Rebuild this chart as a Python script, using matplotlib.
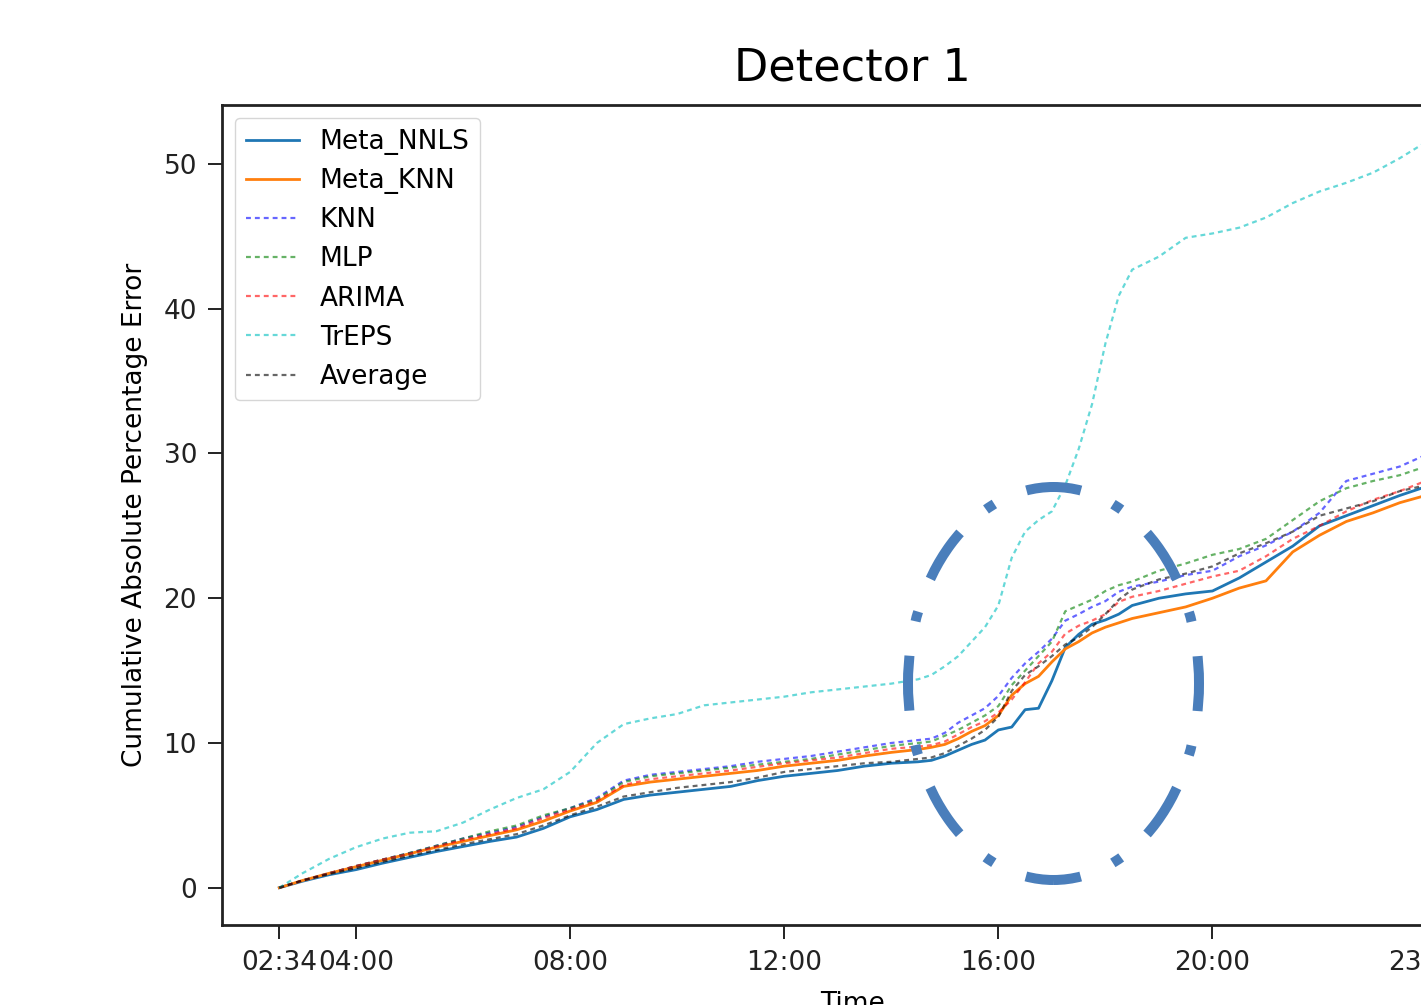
import numpy as np
import pandas as pd
import matplotlib
matplotlib.use("Agg")
import matplotlib.pyplot as plt
import matplotlib.dates as mdates
from matplotlib.patches import Ellipse

# time stamps
times = ["02:34", "03:00", "03:30", "04:00", "04:30", "05:00", "05:30", "06:00",
         "06:30", "07:00", "07:30", "08:00", "08:30", "09:00", "09:30", "10:00",
         "10:30", "11:00", "11:30", "12:00", "12:30", "13:00", "13:30", "14:00",
         "14:30", "14:45", "15:00", "15:15", "15:30", "15:45", "16:00", "16:15",
         "16:30", "16:45", "17:00", "17:15", "17:30", "17:45", "18:00", "18:15",
         "18:30", "19:00", "19:30", "20:00", "20:30", "21:00", "21:30", "22:00",
         "22:30", "23:00", "23:30", "23:59"]

meta_nnls = [0, 0.45, 0.9, 1.25, 1.7, 2.1, 2.5, 2.85, 3.2, 3.5, 4.1, 4.9, 5.4, 6.1,
             6.4, 6.6, 6.8, 7.0, 7.4, 7.7, 7.9, 8.1, 8.4, 8.6, 8.7, 8.8, 9.1, 9.5,
             9.9, 10.2, 10.9, 11.1, 12.3, 12.4, 14.3, 16.6, 17.5, 18.2, 18.5, 18.9,
             19.5, 20.0, 20.3, 20.5, 21.4, 22.5, 23.6, 25.0, 25.7, 26.4, 27.1, 27.7]
meta_knn = [0, 0.5, 1.0, 1.45, 1.9, 2.35, 2.8, 3.2, 3.6, 4.0, 4.6, 5.3, 5.9, 7.0,
            7.3, 7.5, 7.7, 7.9, 8.1, 8.4, 8.6, 8.8, 9.1, 9.35, 9.55, 9.7, 9.9, 10.3,
            10.8, 11.2, 11.9, 13.3, 14.1, 14.6, 15.6, 16.5, 17.0, 17.6, 18.0, 18.3,
            18.6, 19.0, 19.4, 20.0, 20.7, 21.2, 23.2, 24.35, 25.3, 25.9, 26.6, 27.1]
knn = [0, 0.5, 1.0, 1.5, 1.95, 2.4, 2.9, 3.4, 3.8, 4.2, 4.9, 5.5, 6.2, 7.4, 7.8,
       8.0, 8.2, 8.4, 8.7, 8.9, 9.1, 9.4, 9.7, 10.0, 10.2, 10.3, 10.7, 11.4, 11.9,
       12.4, 13.25, 14.5, 15.5, 16.3, 17.2, 18.45, 18.9, 19.4, 19.8, 20.45, 20.8,
       21.15, 21.6, 21.9, 22.9, 23.65, 24.6, 25.9, 28.1, 28.6, 29.1, 29.9]
mlp = [0, 0.5, 1.0, 1.5, 1.95, 2.4, 2.9, 3.4, 3.9, 4.3, 5.0, 5.5, 6.1, 7.3, 7.7,
       7.9, 8.1, 8.3, 8.5, 8.7, 8.9, 9.2, 9.5, 9.8, 10.0, 10.1, 10.5, 10.9, 11.4,
       11.9, 12.55, 14.0, 15.0, 16.0, 17.0, 19.1, 19.5, 19.9, 20.5, 20.9, 21.15,
       21.9, 22.4, 23.0, 23.4, 24.1, 25.4, 26.7, 27.6, 28.1, 28.5, 29.1]
arima = [0, 0.5, 1.0, 1.5, 1.95, 2.35, 2.85, 3.3, 3.7, 4.1, 4.8, 5.4, 6.0, 7.1, 7.5,
         7.7, 7.9, 8.1, 8.35, 8.6, 8.8, 9.0, 9.3, 9.6, 9.75, 9.85, 10.1, 10.6, 11.1,
         11.5, 12.1, 13.0, 14.2, 15.5, 16.3, 17.55, 18.1, 18.45, 18.9, 19.75, 20.1,
         20.5, 21.0, 21.5, 21.9, 22.9, 24.1, 25.0, 26.0, 26.8, 27.4, 28.1]
treps = [0, 1.0, 2.0, 2.8, 3.4, 3.8, 3.9, 4.5, 5.4, 6.2, 6.8, 8.0, 10.0, 11.3, 11.7,
         12.0, 12.6, 12.8, 13.0, 13.2, 13.5, 13.7, 13.9, 14.1, 14.4, 14.7, 15.3, 16.0,
         17.0, 18.0, 19.5, 22.8, 24.6, 25.4, 26.0, 27.8, 30.3, 33.4, 37.6, 40.9, 42.7,
         43.6, 44.9, 45.2, 45.6, 46.3, 47.3, 48.1, 48.7, 49.4, 50.4, 51.5]
average = [0, 0.5, 0.95, 1.35, 1.8, 2.2, 2.6, 3.0, 3.35, 3.7, 4.3, 5.0, 5.6, 6.3, 6.6,
           6.9, 7.1, 7.3, 7.6, 8.0, 8.2, 8.4, 8.6, 8.7, 8.9, 9.0, 9.3, 9.8, 10.3,
           10.9, 11.8, 13.6, 14.7, 15.3, 16.0, 16.8, 17.3, 18.0, 18.9, 19.9, 20.6,
           21.3, 21.7, 22.2, 23.1, 23.8, 24.6, 25.7, 26.2, 26.7, 27.4, 27.8]

tick_times = ["02:34", "04:00", "08:00", "12:00", "16:00", "20:00", "23:59"]

t = pd.to_datetime(["2018-01-01 " + s for s in times])
tt = pd.to_datetime(["2018-01-01 " + s for s in tick_times])

W, H = 1421, 1005
fig = plt.figure(figsize=(W / 100, H / 100), dpi=100)
ax = fig.add_axes([222 / W, (H - 925) / H, 1261 / W, 820 / H])

fs = 19
dash = (0, (2.2, 1.8))
ax.plot(t, meta_nnls, color="#1f77b4", lw=2.0, label="Meta_NNLS")
ax.plot(t, meta_knn, color="#ff7f0e", lw=2.0, label="Meta_KNN")
ax.plot(t, knn, color="b", alpha=0.6, lw=1.6, ls=dash, label="KNN")
ax.plot(t, mlp, color="g", alpha=0.6, lw=1.6, ls=dash, label="MLP")
ax.plot(t, arima, color="r", alpha=0.6, lw=1.6, ls=dash, label="ARIMA")
ax.plot(t, treps, color="c", alpha=0.6, lw=1.6, ls=dash, label="TrEPS")
ax.plot(t, average, color="k", alpha=0.6, lw=1.6, ls=dash, label="Average")

ax.set_xticks(tt)
ax.xaxis.set_major_formatter(mdates.DateFormatter("%H:%M"))
ax.tick_params(labelsize=fs, length=10, width=1.4, pad=8, colors="#222222")
for s in ax.spines.values():
    s.set_linewidth(2.0)
    s.set_color("#222222")

ax.set_title("Detector 1", fontsize=32, pad=18)
ax.set_xlabel("Time", fontsize=fs, labelpad=11)
ax.set_ylabel("Cumulative Absolute Percentage Error", fontsize=fs, labelpad=11)
ax.legend(loc="upper left", fontsize=fs, borderaxespad=0.5, labelspacing=0.5)

# highlighted region, dash-dot ellipse
ell = Ellipse((1053.5 / W, 1 - 683.5 / H), 291 / W, 393 / H, transform=fig.transFigure,
              fill=False, edgecolor="#4a7ebb", lw=7.2,
              linestyle=(2.75, (5.5, 3.5, 1.0, 3.5)))
fig.add_artist(ell)

fig.savefig("out.png", dpi=100)
